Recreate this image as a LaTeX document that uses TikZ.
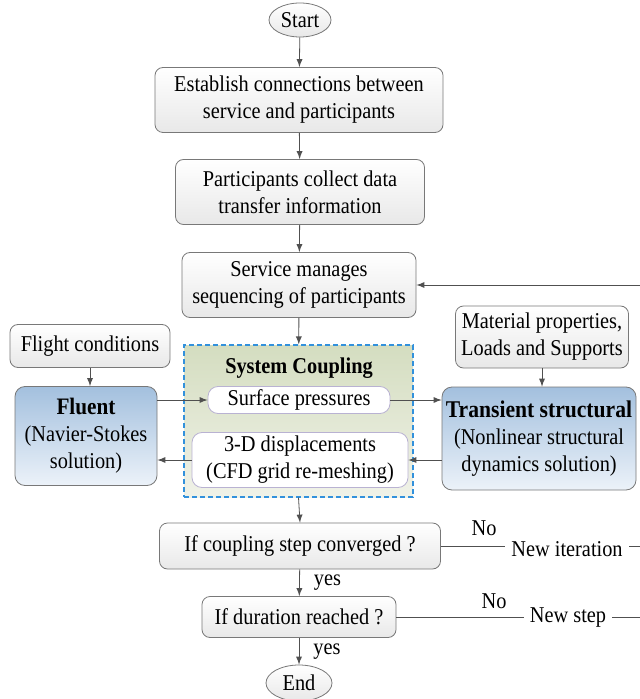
\documentclass[tikz,border=0pt]{standalone}
\usepackage{fontspec}
\setmainfont[FakeStretch=0.9]{Liberation Serif}
\usetikzlibrary{shapes.geometric}
\definecolor{linegray}{RGB}{80,80,80}
\definecolor{boxedge}{RGB}{120,120,120}
\definecolor{boxbot}{RGB}{232,232,232}
\definecolor{bluetop}{RGB}{163,192,222}
\definecolor{bluebot}{RGB}{236,242,249}
\definecolor{greentop}{RGB}{212,221,192}
\definecolor{greenbot}{RGB}{240,242,232}
\definecolor{dashblue}{RGB}{50,145,220}
\definecolor{lavedge}{RGB}{185,178,210}
\begin{document}
\begin{tikzpicture}[x=0.5pt, y=-0.5pt,
    font=\fontsize{11.3}{13.5}\selectfont,
    every node/.style={align=center, inner sep=1pt},
    proc/.style={draw=boxedge, rounded corners=4pt, top color=white, bottom color=boxbot},
    term/.style={ellipse, draw=boxedge, top color=white, bottom color=boxbot, inner sep=0pt},
    solver/.style={draw=boxedge, rounded corners=5pt, top color=bluetop, bottom color=bluebot},
    inner/.style={draw=lavedge, rounded corners=5pt, fill=white},
    link/.style={draw=linegray, -latex}]
    \useasboundingbox (0, 0) rectangle (639, 699);

    % main column
    \node[term, minimum width=31pt, minimum height=17pt] (start) at (300, 20) {Start};
    \node[proc, minimum width=144pt, minimum height=32.5pt] (connect) at (299, 100)
        {Establish connections between\\service and participants};
    \node[proc, minimum width=124.5pt, minimum height=32.5pt] (collect) at (300, 192)
        {Participants collect data\\transfer information};
    \node[proc, minimum width=117pt, minimum height=32.5pt] (service) at (299, 285)
        {Service manages\\sequencing of participants};

    % system coupling block
    \node[draw=dashblue, semithick, dash pattern=on 2.5pt off 1.5pt, top color=greentop, bottom color=greenbot,
        minimum width=114.5pt, minimum height=76pt] (coupling) at (298.5, 421) {};
    \node[font=\fontsize{11.3}{13.5}\selectfont\bfseries] (couplingtitle) at (299, 368) {System Coupling};
    \node[inner, minimum width=91pt, minimum height=13.5pt] (pressure) at (299, 400) {Surface pressures};
    \node[inner, minimum width=108pt, minimum height=27.5pt] (displace) at (300, 460)
        {3-D displacements\\(CFD grid re-meshing)};

    % solvers
    \node[proc, minimum width=80pt, minimum height=21.5pt] (flight) at (90, 346) {Flight conditions};
    \node[solver, minimum width=71pt, minimum height=49.5pt] (fluent) at (86, 436)
        {{\fontsize{11.8}{13.5}\selectfont\bfseries Fluent}\\(Navier-Stokes\\solution)};
    \node[proc, minimum width=86.5pt, minimum height=31pt] (material) at (542, 337)
        {Material properties,\\Loads and Supports};
    \node[solver, minimum width=97pt, minimum height=51.5pt] (structural) at (539, 438.5)
        {{\fontsize{12}{13.5}\selectfont\bfseries Transient structural}\\(Nonlinear structural\\dynamics solution)};

    % decisions
    \node[proc, minimum width=140.5pt, minimum height=23pt] (converged) at (300, 546)
        {If coupling step converged ?};
    \node[proc, minimum width=97pt, minimum height=20.5pt] (duration) at (299, 617)
        {If duration reached ?};
    \node[term, minimum width=33pt, minimum height=18pt] (finish) at (299, 683) {End};

    \coordinate (loop) at (642, 285);

    % connectors
    \draw[link] (start) -- (connect);
    \draw[link] (connect) -- (collect);
    \draw[link] (collect) -- (service);
    \draw[link] (service) -- (coupling);
    \draw[link] (coupling.south) -- (converged.north);
    \draw[link] (converged) -- node[right=6pt] {yes} (duration);
    \draw[link] (duration) -- node[right=6pt] {yes} (finish);
    \draw[link] (flight.south) -- (flight.south |- fluent.north);
    \draw[link] (material.south) -- (material.south |- structural.north);
    \draw[link] (fluent.east |- pressure.west) -- (pressure.west);
    \draw[link] (pressure.east) -- (structural.west |- pressure.east);
    \draw[link] (structural.west |- displace.east) -- (displace.east);
    \draw[link] (displace.west) -- (fluent.east |- displace.west);

    % feedback loops
    \draw[link] (converged.east) -- (converged.east -| loop) -- (loop) -- (service.east);
    \draw[draw=linegray] (duration.east) -- (duration.east -| loop) -- (loop);
    \node[fill=white, inner sep=3pt] (iteration) at (567, 549) {New iteration};
    \node[fill=white, inner sep=3pt] (newstep) at (568, 617) {New step};
    \node (noa) at (484, 528) {No};
    \node (nob) at (494, 601) {No};
\end{tikzpicture}
\end{document}
